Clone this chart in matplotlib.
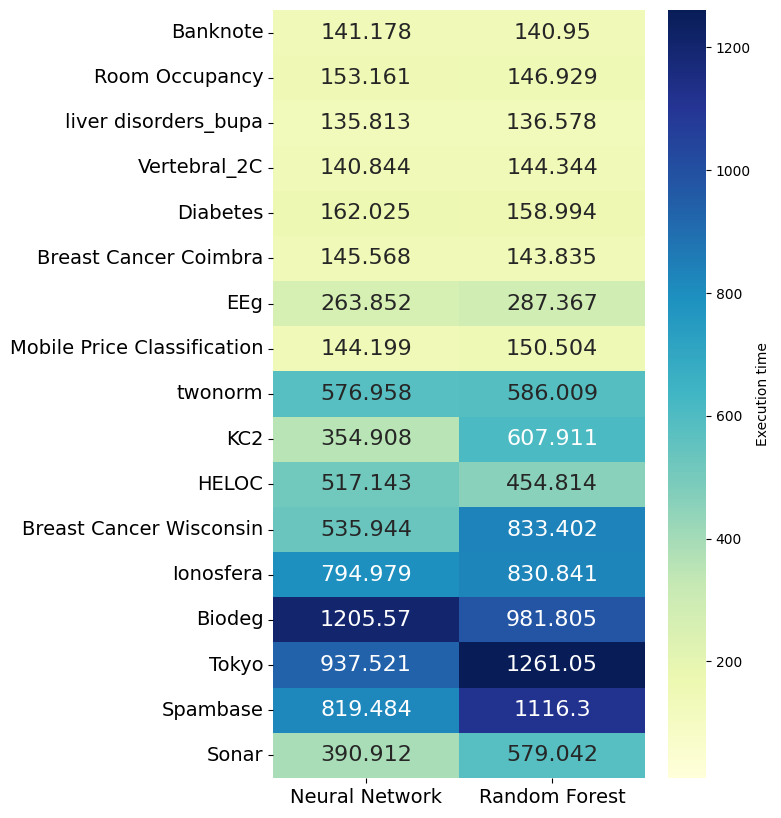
import matplotlib
matplotlib.use("Agg")
import matplotlib.pyplot as plt
import seaborn as sns
import pandas as pd

datasets = ["Banknote", "Room Occupancy", "liver disorders_bupa", "Vertebral_2C", "Diabetes",
            "Breast Cancer Coimbra", "EEg", "Mobile Price Classification", "twonorm", "KC2",
            "HELOC", "Breast Cancer Wisconsin", "Ionosfera", "Biodeg", "Tokyo", "Spambase", "Sonar"]
neural_network = [141.178, 153.161, 135.813, 140.844, 162.025, 145.568, 263.852, 144.199, 576.958,
                  354.908, 517.143, 535.944, 794.979, 1205.57, 937.521, 819.484, 390.912]
random_forest = [140.95, 146.929, 136.578, 144.344, 158.994, 143.835, 287.367, 150.504, 586.009,
                 607.911, 454.814, 833.402, 830.841, 981.805, 1261.05, 1116.3, 579.042]

df = pd.DataFrame({"Neural Network": neural_network, "Random Forest": random_forest}, index=datasets)

fig = plt.figure(figsize=(7.81, 8.18), dpi=100)
ax = fig.add_axes([273 / 781, 40 / 818, 372 / 781, 768 / 818])
cax = fig.add_axes([668 / 781, 40 / 818, 38 / 781, 768 / 818])
sns.heatmap(df, ax=ax, cbar_ax=cax, cmap="YlGnBu", vmin=10, vmax=1261.05,
            annot=True, fmt="g", annot_kws={"fontsize": 16},
            cbar_kws={"label": "Execution time"})
ax.tick_params(axis="both", labelsize=14)
plt.setp(ax.get_yticklabels(), rotation=0)
fig.savefig("out.png", dpi=100)
